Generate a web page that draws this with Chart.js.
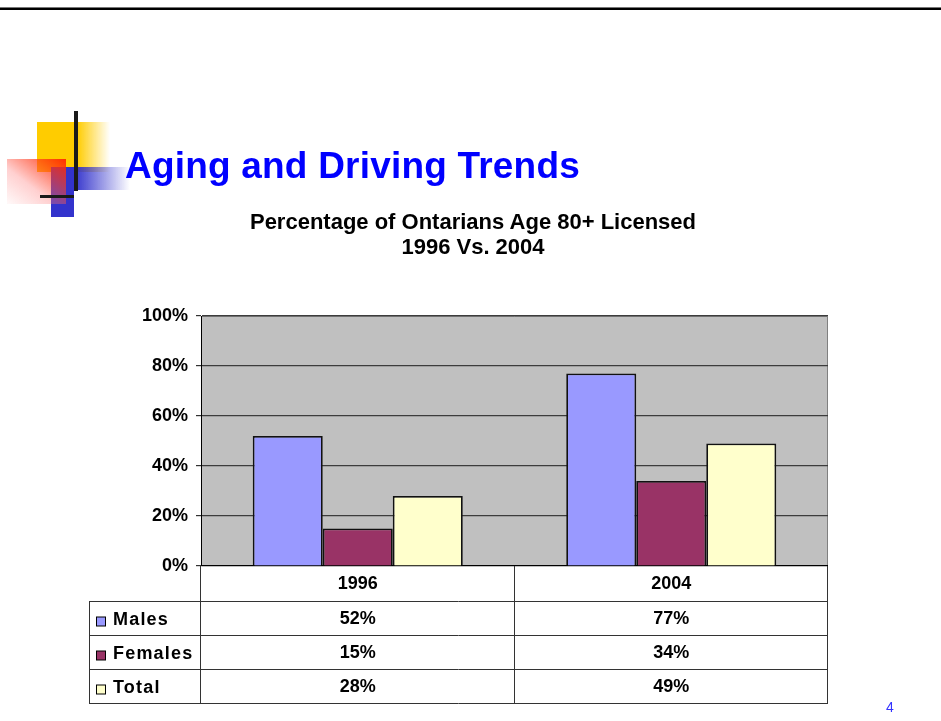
<!DOCTYPE html>
<html>
<head>
<meta charset="utf-8">
<script src="https://cdn.jsdelivr.net/npm/chart.js@4"></script>
<style>
    body { margin: 0; width: 941px; height: 721px; background: #fff; position: relative; overflow: hidden;
           font-family: 'Liberation Sans', Arial, sans-serif; }
    .abs { position: absolute; }
    #chart { position: absolute; left: 0; top: 0; }
    #slideTitle { left: 125px; top: 147px; font-size: 37px; line-height: 37px; font-weight: bold; color: #0000ff;
                  white-space: nowrap; letter-spacing: 0.2px; }
    #chartTitle { left: 173px; top: 209px; width: 600px; text-align: center; font-size: 22px; line-height: 25px; font-weight: bold; color: #000; }
    #pageNum { left: 886px; top: 700px; font-size: 14px; line-height: 14px; color: #3333ff; }
</style>
</head>
<body>
<canvas id="chart" width="941" height="721"></canvas>

<!-- slide frame and decoration -->
<div class="abs" style="left:0;top:7px;width:941px;height:1px;background:#777;"></div>
<div class="abs" style="left:0;top:8px;width:941px;height:2px;background:#000;"></div>
<div class="abs" style="left:37px;top:122px;width:73px;height:50px;background:linear-gradient(to right,#ffcc00 0%,#ffcc00 55%,rgba(255,204,0,0) 100%);"></div>
<div class="abs" style="left:51px;top:167px;width:23px;height:50px;background:#3333cc;"></div>
<div class="abs" style="left:74px;top:167px;width:56px;height:23px;background:linear-gradient(to right,#3333cc,rgba(51,51,204,0));"></div>
<div class="abs" style="left:7px;top:159px;width:59px;height:45px;background:linear-gradient(to bottom left,rgba(255,40,0,0.95),rgba(255,120,120,0.35) 60%,rgba(255,200,200,0.1));"></div>
<div class="abs" style="left:74px;top:111px;width:4px;height:80px;background:#1a1a1a;"></div>
<div class="abs" style="left:40px;top:195px;width:34px;height:3px;background:#1a1a1a;"></div>

<div id="slideTitle" class="abs">Aging and Driving Trends</div>
<div id="chartTitle" class="abs">Percentage of Ontarians Age 80+ Licensed<br>1996 Vs. 2004</div>
<div id="pageNum" class="abs">4</div>

<script>
// chart data
const categories = ['1996', '2004'];
const seriesNames = ['Males', 'Females', 'Total'];
const males = [52, 77];
const females = [15, 34];
const total = [28, 49];
const seriesColors = ['#9999ff', '#993366', '#ffffcc'];
const yTickValues = [0, 20, 40, 60, 80, 100];

const FONT = "'Liberation Sans', Arial, sans-serif";

// grey plot background with thin border
const plotBackground = {
    id: 'plotBackground',
    beforeDraw(chart) {
        const { ctx, chartArea: a } = chart;
        ctx.save();
        ctx.fillStyle = '#c0c0c0';
        ctx.fillRect(a.left, a.top, a.width, a.height);
        ctx.strokeStyle = '#808080';
        ctx.lineWidth = 1;
        ctx.beginPath();
        ctx.moveTo(a.left, a.top + 0.5);
        ctx.lineTo(a.right - 0.5, a.top + 0.5);
        ctx.lineTo(a.right - 0.5, a.bottom);
        ctx.stroke();
        ctx.restore();
    }
};

// data table under the plot, laid out on the x scale's categories
const dataTable = {
    id: 'dataTable',
    afterDraw(chart) {
        const { ctx, chartArea: a } = chart;
        const seriesData = [males, females, total];
        const headerH = 35;
        const rowH = 34;
        const labelLeft = a.left - 112;
        const colW = a.width / categories.length;
        const top = a.bottom;
        const bottom = top + headerH + rowH * seriesNames.length;

        ctx.save();
        ctx.strokeStyle = '#333';
        ctx.lineWidth = 1;
        ctx.beginPath();
        // horizontal lines
        for (let r = 0; r <= seriesNames.length; r++) {
            const y = Math.round(top + headerH + r * rowH) + 0.5;
            ctx.moveTo(labelLeft, y);
            ctx.lineTo(a.right, y);
        }
        // vertical lines
        ctx.moveTo(labelLeft + 0.5, top + headerH);
        ctx.lineTo(labelLeft + 0.5, bottom);
        for (let c = 0; c <= categories.length; c++) {
            const x = Math.round(a.left + c * colW) - 0.5;
            ctx.moveTo(x, top);
            ctx.lineTo(x, bottom);
        }
        ctx.stroke();

        ctx.fillStyle = '#000';
        ctx.textAlign = 'center';
        ctx.textBaseline = 'middle';
        ctx.font = 'bold 18px ' + FONT;
        categories.forEach((cat, c) => {
            const cx = chart.scales.x.getPixelForValue(c);
            ctx.fillText(cat, cx, top + headerH / 2 + 1);
            seriesData.forEach((vals, r) => {
                ctx.fillText(vals[c] + '%', cx, top + headerH + r * rowH + rowH / 2 + 1);
            });
        });

        // legend keys
        ctx.textAlign = 'left';
        ctx.letterSpacing = '1.2px';
        seriesNames.forEach((name, r) => {
            const cy = top + headerH + r * rowH + rowH / 2;
            ctx.fillStyle = seriesColors[r];
            ctx.fillRect(labelLeft + 7.5, cy - 1, 9, 9);
            ctx.strokeStyle = '#000';
            ctx.strokeRect(labelLeft + 7.5, cy - 1, 9, 9);
            ctx.fillStyle = '#000';
            ctx.fillText(name, labelLeft + 24, cy + 2);
        });
        ctx.restore();
    }
};

const ctx = document.getElementById('chart').getContext('2d');
const chart = new Chart(ctx, {
    type: 'bar',
    data: {
        labels: categories,
        datasets: [males, females, total].map((vals, i) => ({
            label: seriesNames[i],
            data: vals,
            backgroundColor: seriesColors[i],
            borderColor: '#111',
            borderWidth: 1.8,
            categoryPercentage: 0.67,
            barPercentage: 1.0
        }))
    },
    options: {
        responsive: false,
        animation: false,
        devicePixelRatio: 1,
        layout: { padding: { top: 316, right: 113, bottom: 155, left: 0 } },
        plugins: {
            legend: { display: false },
            title: { display: false },
            tooltip: { enabled: false }
        },
        scales: {
            x: { display: false },
            y: {
                min: 0,
                max: 100,
                afterBuildTicks: scale => {
                    scale.ticks = yTickValues.map(v => ({ value: v }));
                },
                afterFit: scale => { scale.width = 201; },
                ticks: {
                    color: '#000',
                    padding: 8,
                    font: { family: FONT, size: 18, weight: 'bold' },
                    callback: v => v + '%'
                },
                grid: {
                    color: c => (c.tick && c.tick.value === 0) ? '#000' : '#3c3c3c',
                    lineWidth: 1.2,
                    drawTicks: true,
                    tickLength: 5,
                    tickColor: '#333'
                },
                border: { display: true, color: '#000', width: 1 }
            }
        }
    },
    plugins: [plotBackground, dataTable]
});
</script>
</body>
</html>
